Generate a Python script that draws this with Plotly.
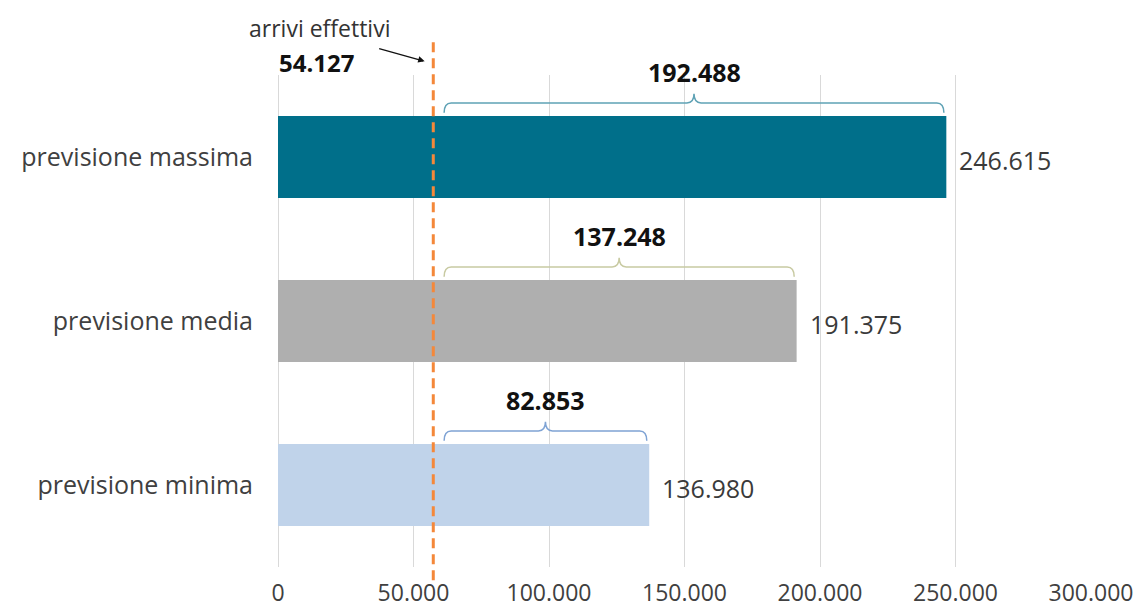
import plotly.graph_objects as go

# ---- data ----
categorie = ["previsione minima", "previsione media", "previsione massima"]
valori = [136980, 191375, 246615]
arrivi_effettivi = 54127
linea_tratteggiata = 57300   # position of the dashed line
inizio_parentesi = 61300     # start of braces
colori_barre = ["#c0d3ea", "#afafaf", "#006f8a"]
colori_parentesi = ["#7fa3d4", "#c8caa2", "#5fa2b5"]
tick_valori = [0, 50000, 100000, 150000, 200000, 250000, 300000]
tick_testi = ["0", "50.000", "100.000", "150.000", "200.000", "250.000", "300.000"]


def it(n):
    return f"{n:,}".replace(",", ".")


FONT = "Open Sans"
ypos = list(range(len(categorie)))

fig = go.Figure()
fig.add_trace(go.Bar(
    y=ypos, x=valori, orientation="h", width=0.5,
    marker=dict(color=colori_barre, line=dict(width=0)),
    hoverinfo="skip", showlegend=False,
))

shapes = []
annotations = []
dx = 2600
for yi, v, col in zip(ypos, valori, colori_parentesi):
    x0 = inizio_parentesi
    x1 = v - 900
    xm = (x0 + x1) / 2
    ye = yi + 0.27
    yl = yi + 0.33
    yt = yi + 0.385
    path = (f"M {x0},{ye} Q {x0},{yl} {x0+dx},{yl} L {xm-dx},{yl} "
            f"Q {xm},{yl} {xm},{yt} Q {xm},{yl} {xm+dx},{yl} "
            f"L {x1-dx},{yl} Q {x1},{yl} {x1},{ye}")
    shapes.append(dict(type="path", xref="x", yref="y", path=path,
                       line=dict(color=col, width=1.5)))
    annotations.append(dict(x=xm, y=yl, xref="x", yref="y",
                            text=f"<b>{it(v - arrivi_effettivi)}</b>", showarrow=False,
                            font=dict(family=FONT, size=25, color="#111111"),
                            xanchor="center", yanchor="middle", yshift=31))
    annotations.append(dict(x=v, y=yi - 0.02, xref="x", yref="y", text=it(v),
                            showarrow=False, xanchor="left", yanchor="middle", xshift=11,
                            font=dict(family=FONT, size=25, color="#3a3a3a")))

shapes.append(dict(type="line", xref="x", yref="paper",
                   x0=linea_tratteggiata, x1=linea_tratteggiata, y0=-0.027, y1=1.071,
                   line=dict(color="#f4883a", width=3, dash="10px,6px"), layer="above"))

annotations.append(dict(x=arrivi_effettivi, y=1.028, xref="x", yref="paper", text="",
                        showarrow=True, axref="pixel", ayref="pixel", ax=-47, ay=-13,
                        arrowhead=2, arrowsize=1, arrowwidth=1.3, arrowcolor="#111111"))
annotations.append(dict(x=15300, y=1.0, xref="x", yref="paper", text="arrivi effettivi",
                        showarrow=False, xanchor="center", yanchor="middle", yshift=47,
                        font=dict(family=FONT, size=23, color="#333333")))
annotations.append(dict(x=14200, y=1.0, xref="x", yref="paper",
                        text=f"<b>{it(arrivi_effettivi)}</b>",
                        showarrow=False, xanchor="center", yanchor="middle", yshift=13,
                        font=dict(family=FONT, size=24, color="#111111")))

fig.update_layout(
    width=1141, height=613,
    margin=dict(l=278, r=50, t=75, b=46),
    plot_bgcolor="white", paper_bgcolor="white",
    separators=",.",
    bargap=0.5,
    shapes=shapes, annotations=annotations,
    xaxis=dict(range=[0, 300000], tickvals=tick_valori, ticktext=tick_testi,
               showgrid=True, gridcolor="#d9d9d9", gridwidth=1,
               zeroline=True, zerolinecolor="#d9d9d9", zerolinewidth=1,
               showline=False, ticks="", ticklabelstandoff=10, automargin=False,
               tickfont=dict(family=FONT, size=23, color="#404040"),
               fixedrange=True),
    yaxis=dict(range=[-0.5, 2.5], tickvals=ypos, ticktext=categorie,
               showgrid=False, zeroline=False, showline=False, ticks="",
               ticklabelstandoff=24, automargin=False,
               tickfont=dict(family=FONT, size=25, color="#404040"),
               fixedrange=True),
)

fig.write_html("out.html", config={"displayModeBar": False})
